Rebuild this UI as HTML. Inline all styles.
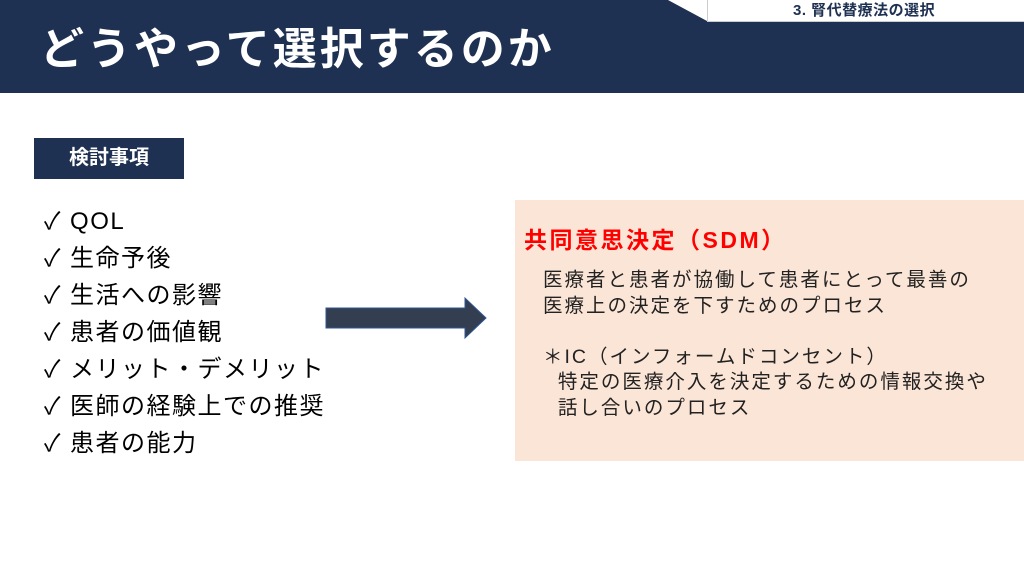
<!DOCTYPE html>
<html><head><meta charset="utf-8"><style>
body{margin:0;width:1024px;height:576px;position:relative;overflow:hidden;background:#fff;font-family:"Liberation Sans","Noto Sans CJK JP",sans-serif;}
.a{position:absolute;white-space:nowrap;}
</style></head><body>
<div class="a" style="left:0;top:0;width:1024px;height:93px;background:#1f3152;"></div>
<svg class="a" style="left:0;top:0" width="1024" height="93"><polygon points="668,0 1024,0 1024,21 707,21" fill="#fff"/><line x1="707.5" y1="0" x2="707.5" y2="21" stroke="#ccc"/><line x1="707" y1="21.5" x2="1024" y2="21.5" stroke="#ccc"/></svg>
<div class="a" style="left:793px;top:1px;font-size:15px;font-weight:bold;color:#1f3152;line-height:19px;letter-spacing:0.5px;">3. 腎代替療法の選択</div>
<div class="a" style="left:40px;top:20px;font-size:44px;font-weight:bold;color:#fff;line-height:60px;letter-spacing:3px;">どうやって選択するのか</div>
<div class="a" style="left:34px;top:138px;width:150px;height:41px;background:#1f3152;color:#fff;font-size:20px;font-weight:bold;line-height:41px;text-align:center;">検討事項</div>
<div class="a" style="left:44px;top:203px;font-size:24px;line-height:37px;color:#000;letter-spacing:1.5px;">✓ QOL<br>✓ 生命予後<br>✓ 生活への影響<br>✓ 患者の価値観<br>✓ メリット・デメリット<br>✓ 医師の経験上での推奨<br>✓ 患者の能力</div>
<svg class="a" style="left:320px;top:292px" width="172" height="52"><polygon points="6,16 145,16 145,6 166,26 145,46 145,36 6,36" fill="#333f50" stroke="#2f5597" stroke-width="1"/></svg>
<div class="a" style="left:515px;top:200px;width:509px;height:261px;background:#fbe5d6;"></div>
<div class="a" style="left:524px;top:225px;font-size:23px;font-weight:bold;color:#f00;line-height:30px;letter-spacing:2.5px;">共同意思決定（SDM）</div>
<div class="a" style="left:543px;top:268px;font-size:19.5px;line-height:25.5px;color:#222;letter-spacing:2px;">医療者と患者が協働して患者にとって最善の<br>医療上の決定を下すためのプロセス<br><br>＊IC（インフォームドコンセント）<br>&nbsp;&nbsp;特定の医療介入を決定するための情報交換や<br>&nbsp;&nbsp;話し合いのプロセス</div>
</body></html>
